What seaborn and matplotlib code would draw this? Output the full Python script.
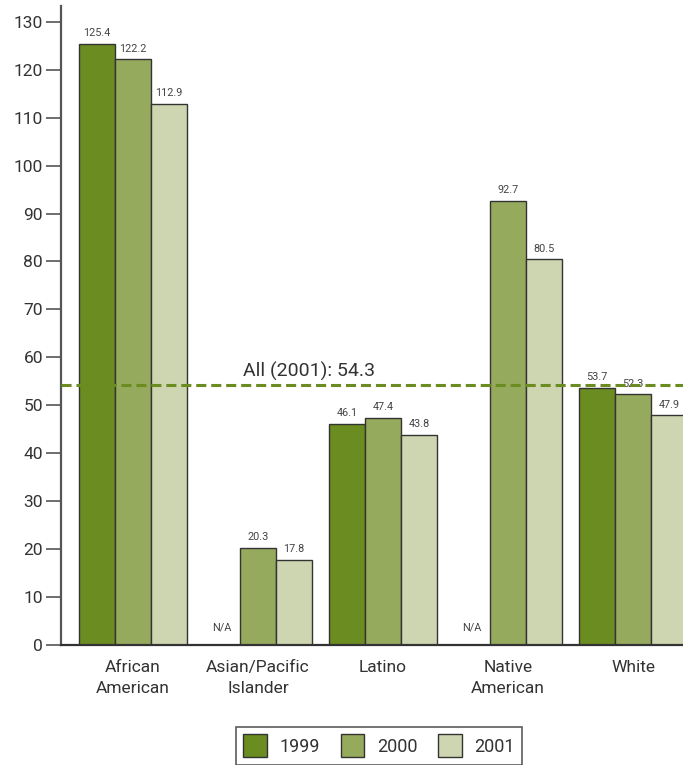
import numpy as np
import pandas as pd
import matplotlib
matplotlib.use("Agg")
import matplotlib.pyplot as plt
import seaborn as sns
from matplotlib.font_manager import fontManager

categories = ["African\nAmerican", "Asian/Pacific\nIslander", "Latino", "Native\nAmerican", "White"]
years = ["1999", "2000", "2001"]
vals_1999 = [125.4, None, 46.1, None, 53.7]
vals_2000 = [122.2, 20.3, 47.4, 92.7, 52.3]
vals_2001 = [112.9, 17.8, 43.8, 80.5, 47.9]
all_2001 = 54.3
yticks = list(range(0, 131, 10))
colors = ["#6b8c21", "#95aa5c", "#cdd6b0"]

sns.set_theme(style="white")
names = {f.name for f in fontManager.ttflist}
main_font = "Roboto" if "Roboto" in names else "Liberation Sans"
narrow = "Liberation Sans Narrow" if "Liberation Sans Narrow" in names else main_font
plt.rcParams["font.family"] = [main_font, "DejaVu Sans"]

rows = []
for yr, vals in zip(years, [vals_1999, vals_2000, vals_2001]):
    for c, v in zip(categories, vals):
        rows.append({"group": c, "year": yr, "value": np.nan if v is None else v})
df = pd.DataFrame(rows)
df["plotval"] = df["value"].fillna(0)

fig = plt.figure(figsize=(6.83, 7.65), dpi=100)
ax = fig.add_axes([0.0893, 0.1569, 0.9107, 0.8353])

sns.barplot(data=df, x="group", y="plotval", hue="year", order=categories,
            hue_order=years, palette=colors, saturation=1, width=0.864, gap=0,
            edgecolor="#333333", linewidth=1.0, ax=ax, legend=True, errorbar=None)

ax.set_xlim(-0.576, 4.4)
ax.set_ylim(0, 133.3)
ax.set_yticks(yticks)
ax.set_xlabel("")
ax.set_ylabel("")

for cont, yr in zip(ax.containers, years):
    sub = df[df["year"] == yr].set_index("group").loc[categories]
    for bar, v in zip(cont.patches, sub["value"]):
        cx = bar.get_x() + bar.get_width() / 2
        if np.isnan(v):
            ax.text(cx, 2.5, "N/A", ha="center", va="bottom", fontsize=7.8,
                    family=[narrow, "DejaVu Sans"], color="#444444")
        else:
            ax.annotate(f"{v:.1f}", (cx, v), xytext=(0, 4), textcoords="offset points",
                        ha="center", va="bottom", fontsize=7.8,
                        family=[narrow, "DejaVu Sans"], color="#444444")

ax.axhline(all_2001, color="#6b8c21", lw=2.2, dashes=(3.3, 1.6), zorder=5)
ax.annotate(f"All (2001): {all_2001}", (1.41, all_2001), xytext=(0, 3),
            textcoords="offset points", ha="center", va="bottom", fontsize=14,
            family=[narrow, "DejaVu Sans"], color="#333333")

for s in ["top", "right"]:
    ax.spines[s].set_visible(False)
ax.spines["left"].set_color("#555555")
ax.spines["left"].set_linewidth(1.6)
ax.spines["bottom"].set_color("#333333")
ax.spines["bottom"].set_linewidth(1.6)
ax.tick_params(axis="y", direction="out", length=11, width=1.2, color="#555555",
               labelsize=12.5, labelcolor="#333333", pad=2, left=True)
ax.tick_params(axis="x", length=0, labelsize=12.5, labelcolor="#333333", pad=11)
for t in ax.get_xticklabels():
    t.set_linespacing(1.45)

h, l = ax.get_legend_handles_labels()
ax.get_legend().remove()
leg = fig.legend(h, l, loc="upper center", ncol=3,
                 fontsize=13, frameon=True, fancybox=False, edgecolor="#333333",
                 handlelength=1.3, handleheight=1.6, columnspacing=1.15,
                 handletextpad=0.7, borderpad=0.4, borderaxespad=0,
                 bbox_to_anchor=(0.555, 1 - 727 / 765), bbox_transform=fig.transFigure)
leg.get_frame().set_linewidth(1.2)
for t in leg.get_texts():
    t.set_color("#333333")

fig.savefig("out.png", dpi=100)
